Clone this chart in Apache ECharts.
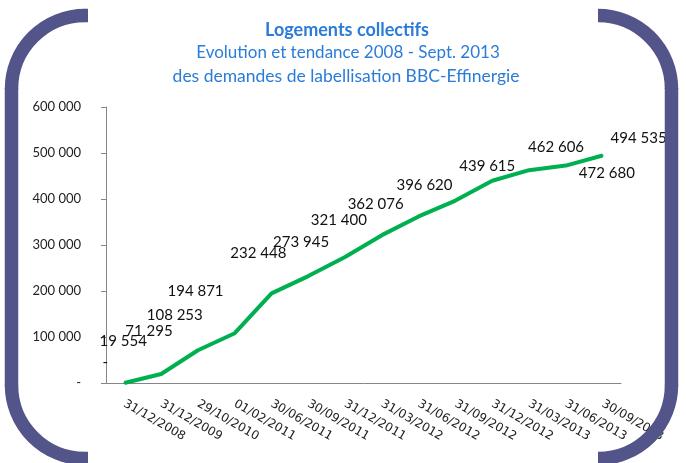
<!DOCTYPE html>
<html>
<head>
<meta charset="utf-8">
<script src="https://cdn.jsdelivr.net/npm/echarts@6/dist/echarts.min.js"></script>
<style>
  html, body { margin: 0; padding: 0; background: #fff; }
  #chart { width: 686px; height: 463px; }
</style>
</head>
<body>
<div id="chart"></div>
<script>
// dates of the requests (x axis)
const dates = [
  '31/12/2008', '31/12/2009', '29/10/2010', '01/02/2011', '30/06/2011', '30/09/2011', '31/12/2011',
  '31/03/2012', '31/06/2012', '31/09/2012', '31/12/2012', '31/03/2013', '31/06/2013', '30/09/2013'
];
// cumulated number of dwellings
const demandes = [0, 19554, 71295, 108253, 194871, 232448, 273945, 321400, 362076, 396620, 439615, 462606, 472680, 494535];
// y axis
const yMin = 0;
const yMax = 600000;
const yStep = 100000;
// where Excel put each data label, relative to its point
const labelOffsets = [
  [-19, -21], [-38, -33], [-49, -19], [-60, -18], [-76, -2], [-50, -23], [-44, -15],
  [-43, -15], [-43, -12], [-31, -15], [-5, -15], [27, -23], [41, 8], [36, -17]
];

const fmt = v => v === 0 ? '-' : String(v).replace(/\B(?=(\d{3})+(?!\d))/g, ' ');

const chartDom = document.getElementById('chart');
const myChart = echarts.init(chartDom);

const titleColor = '#2B7BD8';
const bracketColor = '#53548A';
const bw = 13.5;

// bracket pieces
const arc = (cx, cy, a0, a1) => ({
  type: 'arc', z: 100,
  shape: { cx, cy, r: 73.5, startAngle: a0, endAngle: a1, clockwise: true },
  style: { fill: 'none', stroke: bracketColor, lineWidth: bw }
});
const seg = (x1, y1, x2, y2) => ({
  type: 'line', z: 100,
  shape: { x1, y1, x2, y2 },
  style: { stroke: bracketColor, lineWidth: bw }
});
const PI = Math.PI;

const option = {
  backgroundColor: '#fff',
  animation: false,
  grid: { left: 106, right: 65, top: 107, bottom: 80 },
  xAxis: {
    type: 'category',
    data: dates,
    boundaryGap: true,
    axisLine: { lineStyle: { color: '#868686', width: 1 } },
    axisTick: { length: 5, lineStyle: { color: '#868686' } },
    axisLabel: {
      rotate: -30,
      margin: 20,
      interval: 0,
      color: '#222',
      fontFamily: 'DejaVu Sans',
      fontSize: 12
    }
  },
  yAxis: {
    type: 'value',
    min: yMin,
    max: yMax,
    interval: yStep,
    splitLine: { show: false },
    axisLine: { show: true, lineStyle: { color: '#868686', width: 1 } },
    axisTick: { show: true, length: 5, lineStyle: { color: '#868686' } },
    axisLabel: {
      margin: 25,
      color: '#222',
      fontFamily: 'Lato',
      fontSize: 13,
      formatter: fmt
    }
  },
  series: [
    {
      type: 'line',
      data: demandes.map((v, i) => ({
        value: v,
        label: { offset: labelOffsets[i] }
      })),
      symbol: 'circle',
      symbolSize: 2,
      showSymbol: true,
      itemStyle: { color: '#00B050' },
      lineStyle: { color: '#00B050', width: 4 },
      label: {
        show: true,
        position: 'inside',
        color: '#111',
        fontFamily: 'Lato',
        fontSize: 15,
        formatter: p => fmt(p.value)
      }
    }
  ],
  graphic: [
    {
      type: 'text', x: 347, y: 30, z: 10,
      style: {
        text: 'Logements collectifs', fill: titleColor,
        font: 'bold 18px Lato', textAlign: 'center', textVerticalAlign: 'middle'
      }
    },
    {
      type: 'text', x: 348, y: 53, z: 10,
      style: {
        text: 'Evolution et tendance 2008 - Sept. 2013', fill: titleColor,
        font: '17px Lato', textAlign: 'center', textVerticalAlign: 'middle'
      }
    },
    {
      type: 'text', x: 346, y: 76, z: 10,
      style: {
        text: 'des demandes de labellisation BBC-Effinergie', fill: titleColor,
        font: '17.5px Lato', textAlign: 'center', textVerticalAlign: 'middle'
      }
    },
    // left bracket
    seg(84, 15.5, 88, 15.5),
    arc(85, 89, PI, PI * 1.5),
    seg(11.5, 88, 11.5, 386),
    arc(85, 385, PI / 2, PI),
    seg(84, 458.5, 88, 458.5),
    // right bracket
    arc(598, 89, PI * 1.5, PI * 2),
    seg(671.5, 88, 671.5, 386),
    arc(598, 385, 0, PI / 2)
  ]
};

myChart.setOption(option);
</script>
</body>
</html>
